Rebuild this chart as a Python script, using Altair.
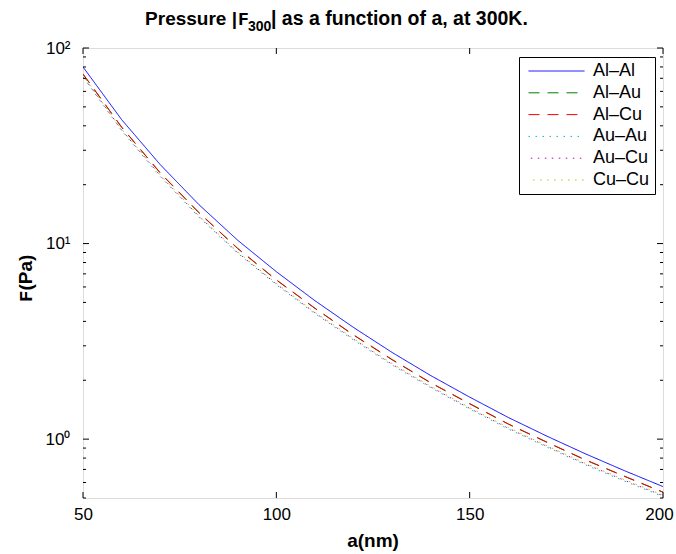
import altair as alt
import pandas as pd

# ---------------- data ----------------
a_nm = [50, 60, 70, 80, 90, 100, 110, 120, 130, 140, 150, 160, 170, 180, 190, 200]
al_al = [80.0, 43.0, 25.3, 15.8, 10.4, 7.18, 5.10, 3.72, 2.77, 2.11, 1.64, 1.29, 1.035, 0.84, 0.69, 0.572]
al_au = [73.5, 39.3, 22.9, 14.35, 9.43, 6.51, 4.66, 3.40, 2.54, 1.935, 1.515, 1.193, 0.962, 0.781, 0.645, 0.535]
al_cu = [73.7, 39.4, 23.0, 14.4, 9.46, 6.53, 4.67, 3.41, 2.55, 1.94, 1.52, 1.196, 0.965, 0.783, 0.647, 0.536]
au_au = [71.1, 37.8, 22.0, 13.65, 8.92, 6.16, 4.38, 3.21, 2.39, 1.83, 1.425, 1.127, 0.910, 0.738, 0.610, 0.509]
au_cu = [71.6, 38.1, 22.2, 13.75, 8.99, 6.21, 4.42, 3.24, 2.41, 1.845, 1.437, 1.137, 0.918, 0.745, 0.616, 0.514]
cu_cu = [72.1, 38.4, 22.4, 13.86, 9.06, 6.26, 4.45, 3.27, 2.43, 1.86, 1.449, 1.146, 0.925, 0.751, 0.621, 0.518]

series_names = ["Al–Al", "Al–Au", "Al–Cu", "Au–Au", "Au–Cu", "Cu–Cu"]
series_values = [al_al, al_au, al_cu, au_au, au_cu, cu_cu]
series_colors = ["#0000ff", "#008000", "#ff0000", "#00bfbf", "#bf00bf", "#bfbf00"]
series_dash = [[1, 0], [11, 8], [11, 8], [1.5, 5.5], [0, 2.3, 1.5, 3.2], [0, 4.6, 1.5, 0.9]]

x_tick_values = [50, 100, 150, 200]
y_major_ticks = [1, 10, 100]
y_minor_ticks = [0.5, 0.6, 0.7, 0.8, 0.9, 2, 3, 4, 5, 6, 7, 8, 9, 20, 30, 40, 50, 60, 70, 80, 90]

rows = []
for name, vals in zip(series_names, series_values):
    for a, v in zip(a_nm, vals):
        rows.append({"a": a, "F": v, "series": name})
df = pd.DataFrame(rows)

FONT = "Liberation Sans"
MONO = "Liberation Mono"
W, H = 580, 450

xscale = alt.Scale(domain=[50, 200], nice=False, zero=False)
yscale = alt.Scale(type="log", domain=[0.5, 100], nice=False)

legend = alt.Legend(
    orient="none", legendX=436, legendY=9, title=None,
    symbolType="stroke", symbolSize=3136, symbolStrokeWidth=1, clipHeight=18, symbolOffset=4,
    labelFontSize=18, labelFont=FONT, labelColor="black", labelOffset=8,
    fillColor="white", strokeColor="black", padding=5, rowPadding=3.8,
)

x_axis = alt.Axis(values=x_tick_values, format="d", title=None, grid=False, ticks=False, domain=False,
                  labelFontSize=17, labelFont=FONT, labelColor="black", labelPadding=8,
                  labelOffset=alt.ExprRef("datum.value >= 200 ? -4 : 0"),
                  labelFlush=False, labelOverlap=False)
y_axis = alt.Axis(values=y_major_ticks, title=None, grid=False, ticks=False, domain=False,
                  labelExpr="datum.value >= 50 ? '10²' : (datum.value >= 5 ? '10¹' : '10⁰')",
                  labelFontSize=17, labelFont=FONT, labelColor="black", labelPadding=13,
                  labelFlush=False, labelOverlap=False)

lines = alt.Chart(df).mark_line(strokeWidth=1, clip=True).encode(
    x=alt.X("a:Q", scale=xscale, axis=x_axis),
    y=alt.Y("F:Q", scale=yscale, axis=y_axis),
    color=alt.Color("series:N", scale=alt.Scale(domain=series_names, range=series_colors), legend=legend),
    strokeDash=alt.StrokeDash("series:N", scale=alt.Scale(domain=series_names, range=series_dash), legend=legend),
    order=alt.Order("a:Q"),
)

# inside ticks (MATLAB style), positioned through the scales
ymaj = pd.DataFrame({"v": y_major_ticks})
ymin = pd.DataFrame({"v": y_minor_ticks})
xt = pd.DataFrame({"v": x_tick_values})
tick_layers = []
for d, ln in [(ymaj, 6), (ymin, 3)]:
    tick_layers.append(alt.Chart(d).mark_rule(color="black", strokeWidth=1).encode(
        y=alt.Y("v:Q", scale=yscale, axis=y_axis), x=alt.value(0), x2=alt.value(ln)))
    tick_layers.append(alt.Chart(d).mark_rule(color="black", strokeWidth=1).encode(
        y=alt.Y("v:Q", scale=yscale, axis=y_axis), x=alt.value(W - ln), x2=alt.value(W)))
tick_layers.append(alt.Chart(xt).mark_rule(color="black", strokeWidth=1).encode(
    x=alt.X("v:Q", scale=xscale, axis=x_axis), y=alt.value(H - 6), y2=alt.value(H)))
tick_layers.append(alt.Chart(xt).mark_rule(color="black", strokeWidth=1).encode(
    x=alt.X("v:Q", scale=xscale, axis=x_axis), y=alt.value(0), y2=alt.value(6)))


def txt(s, x, y, font=FONT, size=18, bold=True, align="left", angle=0):
    return alt.Chart(pd.DataFrame({"t": [s]})).mark_text(
        font=font, fontSize=size, fontWeight="bold" if bold else "normal",
        align=align, baseline="alphabetic", angle=angle, color="black",
    ).encode(x=alt.value(x), y=alt.value(y), text="t:N")


texts = [
    # title: Pressure |F_300| as a function of a, at 300K.
    txt("Pressure |", 154, -23, size=19, align="right"),
    txt("F", 155, -23, font=MONO, size=18),
    txt("300", 165, -17, size=14),
    txt("| as a function of a, at 300K.", 188, -23, size=19.5),
    # x title
    txt("a(nm)", 290, 499, size=19, align="center"),
    # y title
    txt("F", -51, 254, font=MONO, size=19, angle=270),
    txt("(Pa)", -51, 242.5, size=19, angle=270),
]

chart = alt.layer(lines, *tick_layers, *texts).properties(
    width=W, height=H,
    autosize=alt.AutoSizeParams(type="none"),
    padding={"left": 83, "top": 48, "right": 13, "bottom": 56},
).configure_view(stroke="black", strokeWidth=1.3).configure(background="white")

chart.save("out.html", embed_options={"renderer": "svg", "actions": False})
